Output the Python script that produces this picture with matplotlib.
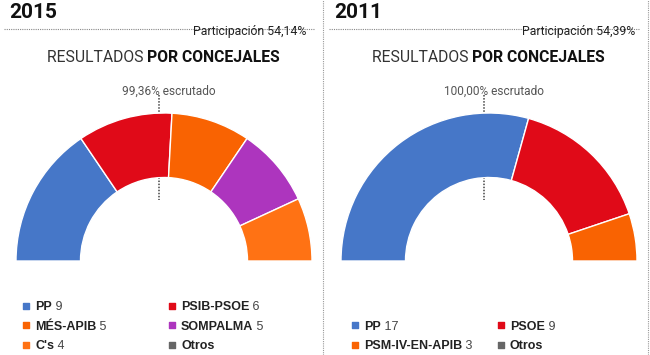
import matplotlib.pyplot as plt

# --- Data ---
years = ['2015', '2011']
participation = ['Participación 54,14%', 'Participación 54,39%']
scrutiny = ['99,36% escrutado', '100,00% escrutado']

parties_2015 = ['PP', 'PSIB-PSOE', 'MÉS-APIB', 'SOMPALMA', "C's"]
seats_2015 = [9, 6, 5, 5, 4]
colors_2015 = ['#4677C8', '#E00A18', '#F96302', '#AD35BE', '#FF7214']

parties_2011 = ['PP', 'PSOE', 'PSM-IV-EN-APIB']
seats_2011 = [17, 9, 3]
colors_2011 = ['#4677C8', '#E00A18', '#F96302']

other_label = 'Otros'
other_color = '#666666'

W, H = 650, 355
FONT = 'Roboto'
LEG_FONT = 'Liberation Sans'
DOT = (0, (1, 1))


def Y(p):
    return H - p


fig = plt.figure(figsize=(W / 100, H / 100), dpi=100)
ax = fig.add_axes([0, 0, 1, 1])

panels = [
    (0, seats_2015, parties_2015, colors_2015, 306),
    (325, seats_2011, parties_2011, colors_2011, 310),
]

for i, (x0, seats, parties, colors, part_x) in enumerate(panels):
    cx, cy = x0 + 164, Y(261)
    r_out, r_in = 148, 83.5

    # half donut: hidden wedge takes the lower half
    wedges, _ = ax.pie(seats + [sum(seats)], colors=colors + ['none'],
                       startangle=180, counterclock=False,
                       radius=r_out, center=(cx, cy),
                       wedgeprops=dict(width=r_out - r_in, edgecolor='white', linewidth=1))
    wedges[-1].set_edgecolor('none')
    for w in wedges:
        w.set_zorder(3)

    # center marker line
    ax.plot([cx - 5, cx - 5], [Y(95), Y(200)], color='#444444', lw=1.1,
            linestyle=DOT, zorder=2)
    ax.text(cx + 5, Y(91), scrutiny[i], ha='center', va='center',
            fontsize=8.6, color='#555555', family=FONT)

    # titles
    ax.text(x0 + 9, Y(17.5), years[i], ha='left', va='baseline', fontsize=15,
            fontweight='bold', color='#111111', family=FONT)
    ax.plot([x0 + 4, x0 + 314], [Y(29), Y(29)], color='#888888', lw=0.8,
            linestyle=DOT, zorder=1)
    ax.text(x0 + part_x, Y(31), participation[i], ha='right', va='center',
            fontsize=8.8, color='#222222', family=FONT)

    t = ax.text(x0 + 47, Y(58), 'RESULTADOS ', ha='left', va='center',
                fontsize=11.3, color='#333333', family=FONT)
    ax.annotate('POR CONCEJALES', xy=(1, 0), xycoords=t, ha='left', va='bottom',
                fontsize=11.3, fontweight='bold', color='#111111', family=FONT)

    # legend
    labels = list(parties) + [other_label]
    values = [str(s) for s in seats] + ['']
    lcolors = colors + [other_color]
    nrows = (len(labels) + 1) // 2
    row_y = [346 - 19.5 * (nrows - 1 - r) for r in range(nrows)]
    for k, (lab, val, col) in enumerate(zip(labels, values, lcolors)):
        r, c = k // 2, k % 2
        lx = x0 + (26 if i == 0 else 30) + c * 146
        ly = Y(row_y[r])
        ax.scatter([lx], [ly + 1.5], marker='s', s=14, color=col, zorder=4)
        t = ax.text(lx + 9, ly, lab, ha='left', va='center', fontsize=9,
                    fontweight='bold', color='#222222', family=LEG_FONT)
        if val:
            ax.annotate(' ' + val, xy=(1, 0), xycoords=t, ha='left', va='bottom',
                        fontsize=9, color='#444444', family=LEG_FONT)

# panel separators
for sx in [323, 648]:
    ax.plot([sx, sx], [0, H], color='#999999', lw=0.8, linestyle=DOT)

ax.set_xlim(0, W)
ax.set_ylim(0, H)
ax.set_aspect('equal')
ax.axis('off')

fig.savefig('out.png', dpi=100)
